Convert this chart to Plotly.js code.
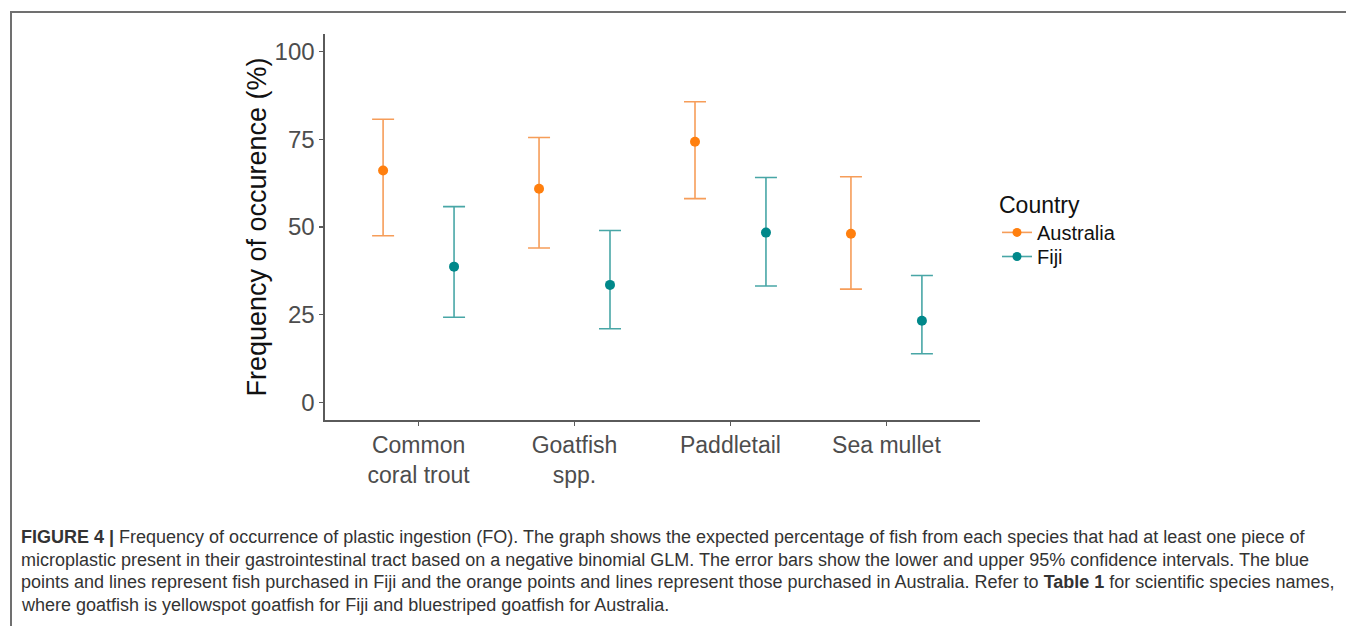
<!DOCTYPE html>
<html>
<head>
<meta charset="utf-8">
<script src="https://cdn.plot.ly/plotly-3.0.1.min.js"></script>
<style>
  html, body { margin: 0; padding: 0; background: #fff; }
  #wrap { position: relative; width: 1346px; height: 626px; overflow: hidden; }
  #frame { position: absolute; left: 10px; top: 11px; width: 1400px; height: 700px; border: 2px solid #707070; box-sizing: border-box; }
  #chart { position: absolute; left: 0; top: 0; width: 1346px; height: 626px; }
</style>
</head>
<body>
<div id="wrap">
  <div id="frame"></div>
  <div id="chart"></div>
</div>
<script>
// ---- data ----
const categories = ["Common<br>coral trout", "Goatfish<br>spp.", "Paddletail", "Sea mullet"];
const ausFO    = [66.1, 60.9, 74.3, 48.1];
const ausLower = [47.5, 44.0, 58.1, 32.3];
const ausUpper = [80.7, 75.5, 85.7, 64.3];
const fijiFO    = [38.7, 33.5, 48.4, 23.3];
const fijiLower = [24.3, 21.0, 33.2, 13.9];
const fijiUpper = [55.8, 49.0, 64.1, 36.2];
const yTicks = [0, 25, 50, 75, 100];
const captionLines = [
  "<b>FIGURE 4 |</b> Frequency of occurrence of plastic ingestion (FO). The graph shows the expected percentage of fish from each species that had at least one piece of",
  "microplastic present in their gastrointestinal tract based on a negative binomial GLM. The error bars show the lower and upper 95% confidence intervals. The blue",
  "points and lines represent fish purchased in Fiji and the orange points and lines represent those purchased in Australia. Refer to <b>Table 1</b> for scientific species names,",
  "where goatfish is yellowspot goatfish for Fiji and bluestriped goatfish for Australia."
];

const AUS = "#FF7F0E", AUS_BAR = "rgba(245,140,60,0.85)";
const FIJI = "#00888A", FIJI_BAR = "rgba(40,150,150,0.85)";

function errs(fo, lo, hi) {
  return {
    type: "data", symmetric: false,
    array: hi.map((h, i) => h - fo[i]),
    arrayminus: lo.map((l, i) => fo[i] - l),
    thickness: 1.6, width: 11
  };
}

const traces = [
  { type: "scatter", mode: "markers", name: "Australia", x: categories, y: ausFO,
    offsetgroup: "aus", showlegend: false, hoverinfo: "skip",
    marker: { color: AUS, size: 10 },
    error_y: Object.assign(errs(ausFO, ausLower, ausUpper), { color: AUS_BAR }) },
  { type: "scatter", mode: "markers", name: "Fiji", x: categories, y: fijiFO,
    offsetgroup: "fiji", showlegend: false, hoverinfo: "skip",
    marker: { color: FIJI, size: 10 },
    error_y: Object.assign(errs(fijiFO, fijiLower, fijiUpper), { color: FIJI_BAR }) },
  { type: "scatter", mode: "lines+markers", name: "Australia", x: [null], y: [null],
    legend: "legend", marker: { color: AUS, size: 9 }, line: { color: AUS_BAR, width: 1.6 } },
  { type: "scatter", mode: "lines+markers", name: "Fiji", x: [null], y: [null],
    legend: "legend2", marker: { color: FIJI, size: 9 }, line: { color: FIJI_BAR, width: 1.6 } }
];

const L = 325, W = 655, T = 34, H = 386;
function px2x(p) { return (p - L) / W; }
function px2y(p) { return (T + H - p) / H; }

const annotations = captionLines.map((t, i) => ({
  text: t, xref: "paper", yref: "paper", x: px2x(19), y: px2y(537 + i * 22.6),
  xanchor: "left", yanchor: "middle", showarrow: false, align: "left",
  font: { family: "Liberation Sans Narrow, Liberation Sans, sans-serif", stretch: "condensed", size: 18, color: "#333333" }
}));

const layout = {
  width: 1346, height: 626,
  margin: { l: L, r: 1346 - L - W, t: T, b: 626 - T - H, pad: 0 },
  paper_bgcolor: "rgba(0,0,0,0)", plot_bgcolor: "rgba(0,0,0,0)",
  font: { family: "Liberation Sans, Arial, sans-serif" },
  scattermode: "group", scattergap: 0.09,
  showlegend: true,
  xaxis: {
    type: "category", range: [-0.6, 3.6], showgrid: false, zeroline: false,
    showline: true, linecolor: "#5a5a5a", linewidth: 1.6,
    ticks: "outside", ticklen: 4, tickwidth: 1.2, tickcolor: "#5a5a5a",
    tickfont: { size: 23, color: "#4d4d4d" }
  },
  yaxis: {
    range: [-5, 105], tickvals: yTicks, showgrid: false, zeroline: false,
    showline: true, linecolor: "#5a5a5a", linewidth: 1.6,
    ticks: "outside", ticklen: 4, tickwidth: 1.2, tickcolor: "#5a5a5a",
    tickfont: { size: 24, color: "#4d4d4d" },
    title: { text: "Frequency of occurence (%)", standoff: 0, font: { size: 27, color: "#111" } }
  },
  legend: {
    x: px2x(997), y: px2y(183), xanchor: "left", yanchor: "top",
    bgcolor: "rgba(0,0,0,0)", borderwidth: 0,
    title: { text: "Country", font: { size: 23, color: "#111" } },
    font: { size: 20, color: "#111" }, itemwidth: 30
  },
  legend2: {
    x: px2x(997), y: px2y(237), xanchor: "left", yanchor: "top",
    bgcolor: "rgba(0,0,0,0)", borderwidth: 0,
    font: { size: 20, color: "#111" }, itemwidth: 30
  },
  annotations: annotations
};

Plotly.newPlot("chart", traces, layout, { staticPlot: true, displayModeBar: false });
</script>
</body>
</html>
